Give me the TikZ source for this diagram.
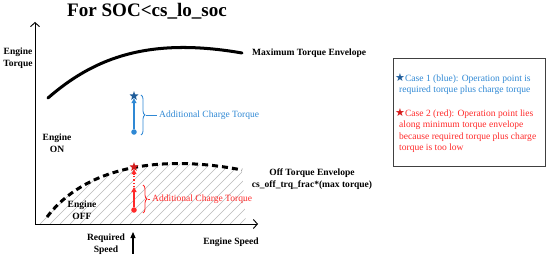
\documentclass[tikz,border=0pt]{standalone}
\usepackage{fontspec}
\setmainfont{Liberation Serif}
\newfontfamily\starfont{DejaVu Sans}
\usetikzlibrary{arrows.meta,shapes.geometric,decorations.pathreplacing}
\definecolor{ink}{HTML}{000000}
\definecolor{bl}{HTML}{2F88D4}
\definecolor{bld}{HTML}{1F5C99}
\definecolor{rd}{HTML}{FF2A2A}
\definecolor{rdd}{HTML}{D41A1A}
\definecolor{hatchc}{HTML}{B8B8B8}
\definecolor{framec}{HTML}{404040}
\tikzset{
  lab/.style={font=\fontsize{9.5}{11.5}\selectfont\bfseries,align=center,inner sep=1pt,text=ink},
  note/.style={font=\fontsize{9.5}{11.5}\selectfont,inner sep=2pt},
  ttl/.style={font=\fontsize{19}{22}\selectfont\bfseries,inner sep=0pt},
  axis/.style={line width=0.9pt,ink,{Straight Barb[length=4pt,width=9pt]}-{Straight Barb[length=4pt,width=9pt]}},
  envl/.style={line width=3pt,ink,line cap=round},
  offenv/.style={line width=3pt,ink,dash pattern=on 6pt off 4pt},
  hline/.style={line width=0.5pt,hatchc},
  opdot/.style={circle,inner sep=0pt,minimum size=5.5pt},
  opstar/.style={star,star points=5,star point ratio=2.4,inner sep=0pt,minimum size=9.5pt},
  opline/.style={line width=1.2pt,-{Triangle[length=5pt,width=5pt]}},
  spd/.style={line width=1pt,ink,-{Triangle[length=6pt,width=5pt]}},
  brc/.style={line width=0.8pt,decorate,decoration={brace,amplitude=4pt}},
  legbox/.style={draw=framec,line width=0.8pt}
}
\newcommand{\lstar}[1]{\hspace*{-4pt}{\starfont\fontsize{11}{11}\selectfont\color{#1}★}}

\begin{document}
\begin{tikzpicture}[x=0.035cm,y=0.035cm]
\useasboundingbox (0,0) rectangle (550,257);
% ================= title =================
\node[ttl,anchor=base] (title) at (147,240) {For SOC<cs\_lo\_soc};
% ================= axes and envelopes =================
\coordinate (orig) at (35,33);
\coordinate (ytop) at (35,235);
\coordinate (xend) at (258,33);
\begin{scope}
  \clip (38,33) -- (47,40) .. controls (85,90) and (160,103) .. (242,87) -- (246,33) -- cycle;
  \foreach \i in {0,...,28}{\draw[hline] (\i*10-30,33) -- ++(120,120);}
\end{scope}
\draw[offenv] (47,40) .. controls (85,90) and (160,103) .. (242,87);
\draw[envl] (48,159) .. controls (95,200) and (150,220) .. (242,204);
\draw[axis] (ytop) -- (orig) -- (xend);
\node[lab] (ytq) at (18,199) {Engine\\Torque};
\node[lab,anchor=west] (maxl) at (251,204) {Maximum Torque Envelope};
\node[lab] (offl) at (312,78) {Off Torque Envelope\\cs\_off\_trq\_frac*(max torque)};
\node[lab] (onl) at (57,114) {Engine\\ON};
\node[lab] (offz) at (82,47) {Engine\\OFF};
\node[lab] (rqs) at (106,13) {Required\\Speed};
\node[lab] (xsp) at (231,15) {Engine Speed};
\coordinate (rqbot) at (133,3);
\coordinate (rqtop) at (133,25);
\draw[spd] (rqbot) -- (rqtop);
% ================= case 1, blue =================
\node[opdot,fill=bl] (bdot) at (134,125) {};
\node[opstar,fill=bld] (bstar) at (134,161) {};
\draw[opline,bl] (bdot) -- (bstar);
\draw[brc,bl] (141,162) -- (141,122);
\coordinate (btip) at (146,142);
\node[note,text=bl,anchor=west] (blab) at (157,142) {Additional Charge Torque};
\draw[bl,line width=0.8pt] (btip) -- (blab.west);
% ================= case 2, red =================
\node[opdot,fill=rd] (rdot) at (134,47) {};
\coordinate (rmid) at (134,70);
\node[opstar,fill=rdd] (rstar) at (134,90) {};
\draw[opline,rd] (rdot) -- (rmid);
\draw[opline,rd,dotted] (rmid) -- (rstar);
\draw[brc,rd] (143,72) -- (143,44);
\coordinate (rtip) at (148,58);
\node[note,text=rd,anchor=west] (rlab) at (150,58) {Additional Charge Torque};
\draw[rd,line width=0.8pt] (rtip) -- (rlab.west);
% ================= legend =================
\draw[legbox] (393,91) rectangle (545,199);
\node[note,text=bl,anchor=north west,align=left] (case1) at (397,186)
  {\lstar{bld}Case 1 (blue): Operation point is\\required torque plus charge torque};
\node[note,text=rd,anchor=north west,align=left] (case2) at (397,151)
  {\lstar{rdd}Case 2 (red): Operation point lies\\along minimum torque envelope\\because required torque plus charge\\torque is too low};
\end{tikzpicture}
\end{document}
